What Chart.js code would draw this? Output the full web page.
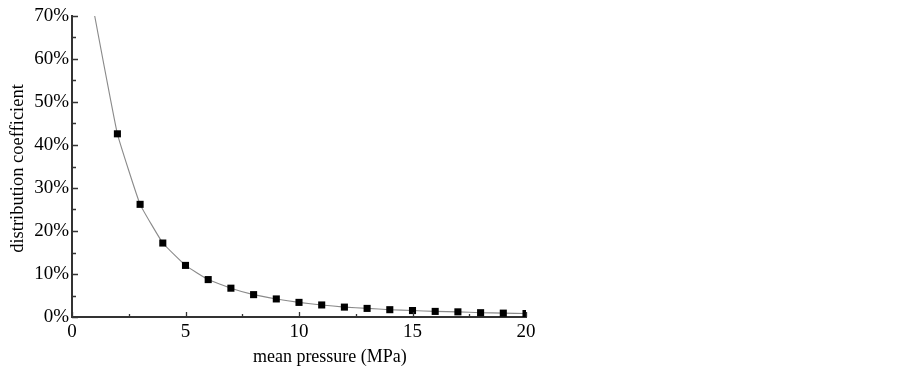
<!DOCTYPE html>
<html>
<head>
<meta charset="utf-8">
<script src="https://cdn.jsdelivr.net/npm/chart.js@4"></script>
<style>
  html, body { margin: 0; padding: 0; background: #fff; }
  #wrap { width: 903px; height: 372px; }
</style>
</head>
<body>
<div id="wrap"><canvas id="chart" width="903" height="372"></canvas></div>
<script>
// mean pressure (MPa) vs distribution coefficient
const pressure = [1, 2, 3, 4, 5, 6, 7, 8, 9, 10, 11, 12, 13, 14, 15, 16, 17, 18, 19, 20];
const coefficient = [0.70, 0.426, 0.262, 0.172, 0.120, 0.087, 0.067, 0.052, 0.042, 0.034,
  0.028, 0.023, 0.020, 0.017, 0.015, 0.013, 0.012, 0.010, 0.009, 0.008];
// first value only shapes the curve, no marker drawn there
const markerFrom = 1;

const xMajor = [0, 5, 10, 15, 20];
const xMinor = [2.5, 7.5, 12.5, 17.5];
const yMajor = [0, 0.1, 0.2, 0.3, 0.4, 0.5, 0.6, 0.7];
const yMinor = [0.05, 0.15, 0.25, 0.35, 0.45, 0.55, 0.65];

const xTitle = "mean pressure (MPa)";
const yTitle = "distribution coefficient";

const FONT = "'Liberation Serif', 'Times New Roman', serif";
const AXIS_COLOR = "#333";

// ticks pointing into the plot, plus axis titles
const axisDecor = {
  id: "axisDecor",
  afterDraw(chart) {
    const ctx = chart.ctx;
    const area = chart.chartArea;
    const xs = chart.scales.x;
    const ys = chart.scales.y;
    ctx.save();
    ctx.strokeStyle = AXIS_COLOR;
    ctx.lineWidth = 1.3;
    ctx.beginPath();
    xMajor.forEach((v) => {
      const px = Math.round(xs.getPixelForValue(v)) + 0.5;
      ctx.moveTo(px, area.bottom);
      ctx.lineTo(px, area.bottom - 5);
    });
    xMinor.forEach((v) => {
      const px = Math.round(xs.getPixelForValue(v)) + 0.5;
      ctx.moveTo(px, area.bottom);
      ctx.lineTo(px, area.bottom - 3);
    });
    yMajor.forEach((v) => {
      const py = Math.round(ys.getPixelForValue(v)) + 0.5;
      ctx.moveTo(area.left, py);
      ctx.lineTo(area.left + 6, py);
    });
    yMinor.forEach((v) => {
      const py = Math.round(ys.getPixelForValue(v)) + 0.5;
      ctx.moveTo(area.left, py);
      ctx.lineTo(area.left + 4, py);
    });
    ctx.stroke();

    ctx.fillStyle = "#000";
    ctx.font = "18px " + FONT;
    ctx.textAlign = "center";
    ctx.textBaseline = "middle";
    ctx.fillText(xTitle, area.left + (area.right - area.left) * 0.568, 357);
    ctx.font = "18.5px " + FONT;
    ctx.translate(18, (area.top + area.bottom) / 2 + 2);
    ctx.rotate(-Math.PI / 2);
    ctx.fillText(yTitle, 0, 0);
    ctx.restore();
  },
};

const canvas = document.getElementById("chart");

new Chart(canvas, {
  type: "line",
  data: {
    datasets: [
      {
        data: pressure.map((p, i) => ({ x: p, y: coefficient[i] })),
        borderColor: "#8a8a8a",
        borderWidth: 1.1,
        tension: 0.1,
        pointStyle: "rect",
        pointRadius: (c) => (c.dataIndex < markerFrom ? 0 : 5),
        pointBackgroundColor: "#000",
        pointBorderColor: "#000",
        pointBorderWidth: 0,
        fill: false,
      },
    ],
  },
  options: {
    responsive: false,
    animation: false,
    events: [],
    layout: { padding: { top: 16, right: 377, left: 0, bottom: 0 } },
    plugins: { legend: { display: false }, tooltip: { enabled: false } },
    scales: {
      x: {
        type: "linear",
        min: 0,
        max: 20,
        afterFit: (s) => { s.height = 55; },
        afterBuildTicks: (s) => { s.ticks = xMajor.map((v) => ({ value: v })); },
        grid: { display: false, drawTicks: false },
        border: { display: true, color: AXIS_COLOR, width: 2 },
        ticks: {
          color: "#000",
          padding: 4,
          font: { family: FONT, size: 19 },
        },
      },
      y: {
        type: "linear",
        min: 0,
        max: 0.7,
        afterFit: (s) => { s.width = 72; },
        afterBuildTicks: (s) => { s.ticks = yMajor.map((v) => ({ value: v })); },
        grid: { display: false, drawTicks: false },
        border: { display: true, color: AXIS_COLOR, width: 2 },
        ticks: {
          color: "#000",
          padding: 3,
          font: { family: FONT, size: 19 },
          callback: (v) => Math.round(v * 100) + "%",
        },
      },
    },
  },
  plugins: [axisDecor],
});
</script>
</body>
</html>
